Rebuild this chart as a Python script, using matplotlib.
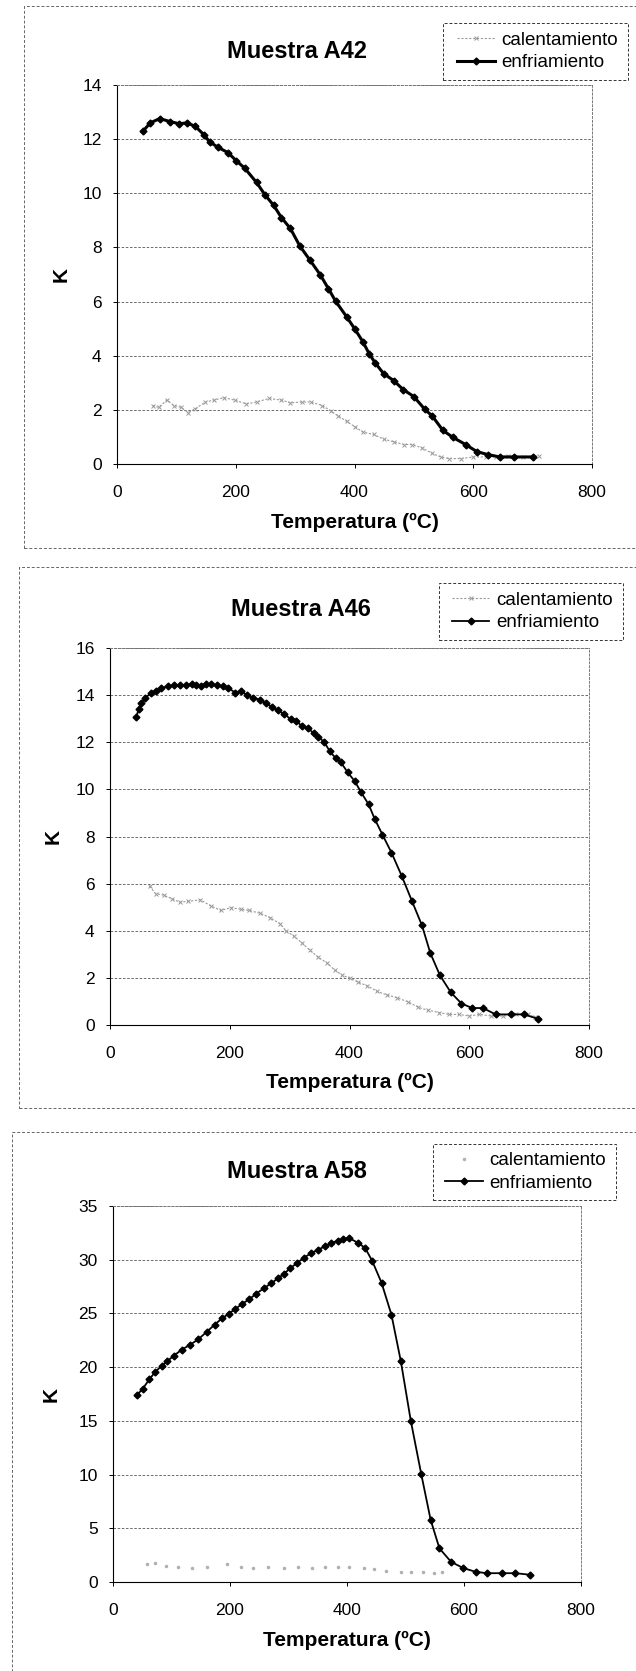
import matplotlib
matplotlib.use("Agg")
import matplotlib.pyplot as plt
from matplotlib.patches import Rectangle

plt.rcParams['font.family'] = ['Liberation Sans', 'DejaVu Sans']

W, H = 636, 1671

# ---- data ----
titles = ["Muestra A42", "Muestra A46", "Muestra A58"]
xlabel = "Temperatura (ºC)"
ylabel = "K"
labels = ["calentamiento", "enfriamiento"]

# A42
a42_enf_t = [44, 56, 72, 89, 105, 118, 132, 146, 156, 170, 187, 201, 215, 235, 249, 264, 277,
             292, 308, 325, 342, 356, 368, 387, 401, 414, 425, 435, 449, 466, 482, 500, 518,
             531, 549, 566, 587, 606, 624, 645, 668, 700]
a42_enf_k = [12.3, 12.6, 12.76, 12.65, 12.57, 12.6, 12.47, 12.17, 11.9, 11.7, 11.5, 11.2, 10.93,
             10.4, 9.95, 9.55, 9.1, 8.7, 8.05, 7.53, 7.0, 6.48, 6.02, 5.43, 4.97, 4.52, 4.06,
             3.73, 3.34, 3.08, 2.75, 2.49, 2.03, 1.77, 1.24, 0.98, 0.72, 0.46, 0.35, 0.26,
             0.26, 0.26]
a42_cal_t = [60, 70, 84, 96, 108, 120, 131, 149, 163, 180, 198, 218, 235, 256, 277, 292, 311,
             326, 346, 360, 373, 387, 401, 414, 432, 449, 466, 483, 497, 514, 531, 545, 559,
             580, 600, 621, 638, 659, 683, 711]
a42_cal_k = [2.16, 2.09, 2.36, 2.16, 2.09, 1.9, 2.03, 2.29, 2.36, 2.45, 2.36, 2.22, 2.29, 2.42,
             2.36, 2.26, 2.29, 2.29, 2.16, 1.96, 1.77, 1.57, 1.37, 1.18, 1.09, 0.92, 0.82,
             0.72, 0.72, 0.59, 0.39, 0.26, 0.2, 0.2, 0.26, 0.26, 0.26, 0.3, 0.26, 0.3]

# A46
a46_enf_t = [44, 48, 52, 59, 68, 76, 86, 97, 107, 117, 127, 137, 144, 152, 161, 168, 178, 188,
             197, 209, 219, 229, 239, 250, 260, 270, 280, 290, 302, 311, 321, 331, 340, 348,
             358, 367, 377, 385, 397, 409, 419, 432, 442, 455, 470, 487, 504, 521, 535, 551,
             569, 587, 605, 623, 644, 669, 691, 714]
a46_enf_k = [13.06, 13.43, 13.66, 13.89, 14.07, 14.19, 14.31, 14.37, 14.42, 14.42, 14.42, 14.49,
             14.42, 14.37, 14.49, 14.46, 14.42, 14.37, 14.31, 14.11, 14.16, 14.0, 13.89, 13.81,
             13.66, 13.51, 13.36, 13.21, 12.98, 12.9, 12.68, 12.6, 12.38, 12.23, 12.0, 11.62,
             11.32, 11.17, 10.72, 10.34, 9.89, 9.36, 8.75, 8.08, 7.32, 6.34, 5.28, 4.23, 3.05,
             2.11, 1.39, 0.91, 0.72, 0.72, 0.45, 0.45, 0.45, 0.27]
a46_cal_t = [66, 76, 90, 103, 117, 131, 151, 168, 185, 202, 219, 232, 250, 267, 284, 294, 307,
             321, 334, 348, 362, 375, 388, 401, 415, 430, 446, 462, 479, 498, 515, 531, 549,
             566, 583, 600, 617, 637, 657, 678, 698, 710]
a46_cal_k = [5.89, 5.58, 5.51, 5.36, 5.21, 5.25, 5.31, 5.06, 4.86, 4.98, 4.91, 4.86, 4.75, 4.56,
             4.3, 4.0, 3.77, 3.47, 3.17, 2.87, 2.64, 2.34, 2.11, 1.99, 1.81, 1.66, 1.43, 1.28,
             1.16, 0.98, 0.75, 0.63, 0.53, 0.45, 0.45, 0.38, 0.45, 0.38, 0.38, 0.45, 0.45, 0.33]

# A58
a58_enf_t = [41, 51, 62, 72, 83, 93, 104, 118, 132, 146, 160, 174, 186, 198, 209, 221, 233,
             245, 258, 270, 282, 293, 303, 314, 326, 338, 350, 363, 373, 384, 394, 404, 418,
             431, 443, 459, 476, 492, 509, 527, 543, 558, 578, 599, 620, 639, 665, 688, 712]
a58_enf_k = [17.4, 18.0, 18.86, 19.54, 20.12, 20.56, 21.07, 21.64, 22.09, 22.6, 23.28, 23.96,
             24.53, 24.97, 25.42, 25.89, 26.33, 26.84, 27.35, 27.79, 28.27, 28.71, 29.22, 29.66,
             30.17, 30.58, 30.92, 31.26, 31.53, 31.77, 31.94, 32.0, 31.6, 31.09, 29.9, 27.86,
             24.87, 20.56, 15.02, 10.02, 5.78, 3.13, 1.87, 1.29, 0.95, 0.82, 0.82, 0.82, 0.68]
a58_cal_t = [58, 72, 90, 111, 135, 160, 195, 219, 240, 265, 293, 317, 341, 363, 384, 404, 429,
             446, 467, 492, 509, 530, 548, 562]
a58_cal_k = [1.63, 1.77, 1.53, 1.43, 1.29, 1.36, 1.63, 1.43, 1.29, 1.36, 1.29, 1.43, 1.29, 1.36,
             1.36, 1.43, 1.29, 1.19, 1.02, 0.95, 0.95, 0.95, 0.85, 0.95]

ymaxes = [14, 16, 35]
ysteps = [2, 2, 5]

# ---- layout (pixels in the page) ----
axes_px = [(117, 592, 85, 464), (110, 589, 648, 1025), (113, 581, 1206, 1582)]
frames_px = [(24, 6, 700, 548), (19, 567, 700, 1108), (12, 1132, 700, 1700)]
legend_px = [(443, 23, 628, 80), (439, 583, 623, 640), (433, 1144, 616, 1200)]
handle_x = [457, 452, 445]
title_px = [(297, 51), (301, 609), (297, 1171)]
ylab_x = [61, 53, 51]
xlab_y = [522, 1082, 1640]

fig = plt.figure(figsize=(W / 100, H / 100), dpi=100)
fig.patch.set_facecolor('white')


def fx(px):
    return px / W


def fy(py):
    return 1 - py / H


data = [
    (a42_cal_t, a42_cal_k, a42_enf_t, a42_enf_k),
    (a46_cal_t, a46_cal_k, a46_enf_t, a46_enf_k),
    (a58_cal_t, a58_cal_k, a58_enf_t, a58_enf_k),
]

for i in range(3):
    l, r, t, b = axes_px[i]
    ax = fig.add_axes([fx(l), fy(b), (r - l) / W, (b - t) / H])
    cal_t, cal_k, enf_t, enf_k = data[i]

    if i < 2:
        h1, = ax.plot(cal_t, cal_k, color='#9a9a9a', lw=0.8, ls=(0, (2, 1.5)),
                      marker='x', ms=3.5, mew=0.7, zorder=3)
    else:
        h1, = ax.plot(cal_t, cal_k, color='#b0b0b0', lw=0, ls='none',
                      marker='.', ms=3, zorder=3)
    lw = 2.2 if i == 0 else 1.3
    h2, = ax.plot(enf_t, enf_k, color='black', lw=lw, marker='D', ms=3.5, zorder=4)

    ax.set_xlim(0, 800)
    ax.set_ylim(0, ymaxes[i])
    ax.set_xticks(range(0, 801, 200))
    ax.set_yticks(range(0, ymaxes[i] + 1, ysteps[i]))
    ax.tick_params(labelsize=12.5, length=3, width=0.7, direction='out', pad=12)
    ax.tick_params(axis='y', pad=8)
    ax.grid(axis='y', color='#555555', lw=0.6, ls=(0, (3, 2)))
    ax.set_axisbelow(True)
    for side in ('top', 'right'):
        ax.spines[side].set_color('#777777')
        ax.spines[side].set_linestyle((0, (2, 2)))
        ax.spines[side].set_linewidth(0.7)
    for side in ('left', 'bottom'):
        ax.spines[side].set_color('black')
        ax.spines[side].set_linewidth(0.8)

    # outer chart frame (dashed, as in the scan)
    x0, y0, x1, y1 = frames_px[i]
    fig.patches.append(Rectangle((fx(x0), fy(y1)), (x1 - x0) / W, (y1 - y0) / H,
                                 transform=fig.transFigure, fill=False,
                                 edgecolor='#666666', lw=0.7, ls=(0, (3, 2))))

    fig.text(fx(title_px[i][0]), fy(title_px[i][1]), titles[i], fontsize=17,
             fontweight='bold', ha='center', va='center')
    fig.text(fx(ylab_x[i]), fy((t + b) / 2), ylabel, fontsize=15, fontweight='bold',
             rotation=90, ha='center', va='center')
    fig.text(fx((l + r) / 2), fy(xlab_y[i]), xlabel, fontsize=15, fontweight='bold',
             ha='center', va='center')

    # legend box drawn separately, entries placed inside it
    lx0, ly0, lx1, ly1 = legend_px[i]
    fig.patches.append(Rectangle((fx(lx0), fy(ly1)), (lx1 - lx0) / W, (ly1 - ly0) / H,
                                 transform=fig.transFigure, fill=False,
                                 edgecolor='#333333', lw=0.7, ls=(0, (3, 2))))
    leg = fig.legend([h1, h2], labels, loc='center left',
                     bbox_to_anchor=(fx(handle_x[i]), fy((ly0 + ly1) / 2)),
                     bbox_transform=fig.transFigure, fontsize=13.5, frameon=False,
                     handlelength=2.0, handletextpad=0.35, borderpad=0,
                     labelspacing=0.3, borderaxespad=0)
    leg.set_zorder(10)

fig.savefig("out.png", dpi=100)
